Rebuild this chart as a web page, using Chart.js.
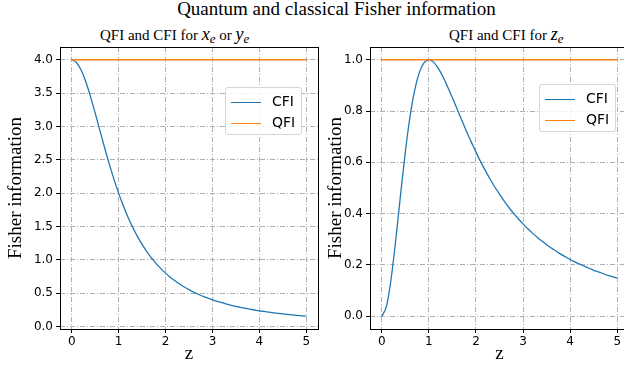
<!DOCTYPE html>
<html>
<head>
<meta charset="utf-8">
<script src="https://cdn.jsdelivr.net/npm/chart.js@4.4.1/dist/chart.umd.min.js"></script>
<style>
    html, body { margin: 0; padding: 0; width: 624px; height: 366px; overflow: hidden; background: #fff; }
    canvas { position: absolute; top: 0; }
    #leftCanvas  { left: 0; }
    #rightCanvas { left: 320px; }
    .suptitle, .subtitle { position: absolute; white-space: nowrap; font-family: "Liberation Serif", serif; color: #000; }
    .suptitle { top: -2px; left: 0; width: 673px; text-align: center; font-size: 19px; }
    .subtitle { top: 24px; font-size: 15px; }
    .subtitle i { font-size: 18px; }
    .subtitle sub { font-size: 13px; font-style: italic; vertical-align: -3px; }
    .legend {
        position: absolute; width: 77px; height: 48px; box-sizing: border-box;
        background: rgba(255,255,255,0.85); border: 1px solid #d6d6d6; border-radius: 3px;
        font: 14px "DejaVu Sans", sans-serif; color: #000;
    }
    .legend div { position: absolute; left: 5px; height: 20px; line-height: 20px; }
    .legend span.swatch { display: inline-block; width: 30px; height: 0; vertical-align: middle; margin-right: 11px; }
</style>
</head>
<body>
<div class="suptitle">Quantum and classical Fisher information</div>
<div class="subtitle" style="left:100px">QFI and CFI for <i>x</i><sub>e</sub> or <i>y</i><sub>e</sub></div>
<div class="subtitle" style="left:449px">QFI and CFI for <i>z</i><sub>e</sub></div>
<canvas id="leftCanvas" width="330" height="366"></canvas>
<canvas id="rightCanvas" width="320" height="366"></canvas>
<div class="legend" id="leftLegend" style="left:225px; top:87px"></div>
<div class="legend" id="rightLegend" style="left:539px; top:84px"></div>
<script>
// values
const zValues = [0.0, 0.1, 0.2, 0.3, 0.4, 0.5, 0.6, 0.7, 0.8, 0.9,
                 1.0, 1.1, 1.2, 1.3, 1.4, 1.5, 1.6, 1.7, 1.8, 1.9,
                 2.0, 2.1, 2.2, 2.3, 2.4, 2.5, 2.6, 2.7, 2.8, 2.9,
                 3.0, 3.1, 3.2, 3.3, 3.4, 3.5, 3.6, 3.7, 3.8, 3.9,
                 4.0, 4.1, 4.2, 4.3, 4.4, 4.5, 4.6, 4.7, 4.8, 4.9, 5.0];

// CFI for x_e or y_e
const cfiXe = [4.000, 3.960, 3.846, 3.670, 3.448, 3.200, 2.941, 2.685, 2.439, 2.210,
               2.000, 1.810, 1.639, 1.487, 1.351, 1.231, 1.124, 1.028, 0.943, 0.868,
               0.800, 0.739, 0.685, 0.636, 0.592, 0.552, 0.515, 0.483, 0.452, 0.425,
               0.400, 0.377, 0.356, 0.336, 0.318, 0.302, 0.287, 0.272, 0.259, 0.247,
               0.235, 0.225, 0.215, 0.205, 0.196, 0.188, 0.181, 0.173, 0.166, 0.160, 0.154];

// CFI for z_e
const cfiZe = [0.000, 0.039, 0.148, 0.303, 0.476, 0.640, 0.779, 0.883, 0.952, 0.989,
               1.000, 0.991, 0.967, 0.934, 0.894, 0.852, 0.808, 0.764, 0.720, 0.680,
               0.640, 0.602, 0.568, 0.535, 0.504, 0.476, 0.449, 0.424, 0.401, 0.380,
               0.360, 0.341, 0.324, 0.308, 0.293, 0.279, 0.266, 0.254, 0.242, 0.232,
               0.221, 0.212, 0.203, 0.195, 0.187, 0.179, 0.173, 0.166, 0.159, 0.154, 0.148];

// QFI is flat over the whole range
const qfiZ  = [0, 5];
const qfiXe = [4.0, 4.0];
const qfiZe = [1.0, 1.0];

const xTicks      = [0, 1, 2, 3, 4, 5];
const yTicksLeft  = [0.0, 0.5, 1.0, 1.5, 2.0, 2.5, 3.0, 3.5, 4.0];
const yTicksRight = [0.0, 0.2, 0.4, 0.6, 0.8, 1.0];

const blue   = '#1f77b4';
const orange = '#ff7f0e';
const gridDash = [5, 2, 1, 2];

// black box round the plot area, drawn over the lines like matplotlib spines
const frame = {
    id: 'frame',
    afterDatasetsDraw(chart) {
        const a = chart.chartArea;
        const ctx = chart.ctx;
        ctx.save();
        ctx.strokeStyle = '#000';
        ctx.lineWidth = 1;
        ctx.strokeRect(Math.round(a.left) + 0.5, Math.round(a.top) + 0.5,
                       Math.round(a.right - a.left), Math.round(a.bottom - a.top));
        ctx.restore();
    }
};

function points(xs, ys) {
    return xs.map((x, i) => ({x: x, y: ys[i]}));
}

function makeConfig(cfi, qfi, yTicks, yMin, yMax, yWidth, padRight) {
    return {
        type: 'line',
        data: {
            datasets: [{
                label: 'CFI',
                data: points(zValues, cfi),
                borderColor: blue,
                borderWidth: 1.3,
                pointRadius: 0,
                cubicInterpolationMode: 'monotone',
                order: 1
            }, {
                label: 'QFI',
                data: points(qfiZ, qfi),
                borderColor: orange,
                borderWidth: 1.5,
                pointRadius: 0,
                order: 0
            }]
        },
        options: {
            responsive: false,
            animation: false,
            devicePixelRatio: 1,
            layout: { padding: { top: 47, right: padRight, bottom: 0, left: 0 } },
            plugins: { legend: { display: false }, tooltip: { enabled: false } },
            scales: {
                x: {
                    type: 'linear',
                    min: -0.25,
                    max: 5.25,
                    afterBuildTicks: s => { s.ticks = xTicks.map(v => ({value: v})); },
                    afterFit: s => { s.height = 37; },
                    grid: { color: '#b0b0b0', tickColor: '#000', tickBorderDash: [], tickLength: 4, drawTicks: true },
                    border: { display: false, dash: gridDash },
                    ticks: { color: '#000', font: { family: 'DejaVu Sans', size: 12 }, padding: 2, maxRotation: 0,
                             callback: v => String(v) },
                    title: { display: true, text: 'z', color: '#000',
                             font: { family: 'Liberation Serif', size: 19 }, padding: { top: 0, bottom: 1 } }
                },
                y: {
                    type: 'linear',
                    min: yMin,
                    max: yMax,
                    afterBuildTicks: s => { s.ticks = yTicks.map(v => ({value: v})); },
                    afterFit: s => { s.width = yWidth; },
                    grid: { color: '#b0b0b0', tickColor: '#000', tickBorderDash: [], tickLength: 4, drawTicks: true },
                    border: { display: false, dash: gridDash },
                    ticks: { color: '#000', font: { family: 'DejaVu Sans', size: 12 }, padding: 3,
                             callback: v => v.toFixed(1) },
                    title: { display: true, text: 'Fisher information', color: '#000',
                             font: { family: 'Liberation Serif', size: 19 }, padding: { top: 5, bottom: 0 } }
                }
            }
        },
        plugins: [frame]
    };
}

function fillLegend(el, chart) {
    chart.data.datasets.forEach((ds, i) => {
        const row = document.createElement('div');
        row.style.top = (3 + i * 21) + 'px';
        const sw = document.createElement('span');
        sw.className = 'swatch';
        sw.style.borderTop = '1.5px solid ' + ds.borderColor;
        row.appendChild(sw);
        row.appendChild(document.createTextNode(ds.label));
        el.appendChild(row);
    });
}

const leftChart  = new Chart(document.getElementById('leftCanvas'),
                             makeConfig(cfiXe, qfiXe, yTicksLeft, -0.038, 4.192, 60, 12));
const rightChart = new Chart(document.getElementById('rightCanvas'),
                             makeConfig(cfiZe, qfiZe, yTicksRight, -0.05, 1.05, 50, 11));

fillLegend(document.getElementById('leftLegend'), leftChart);
fillLegend(document.getElementById('rightLegend'), rightChart);
</script>
</body>
</html>
